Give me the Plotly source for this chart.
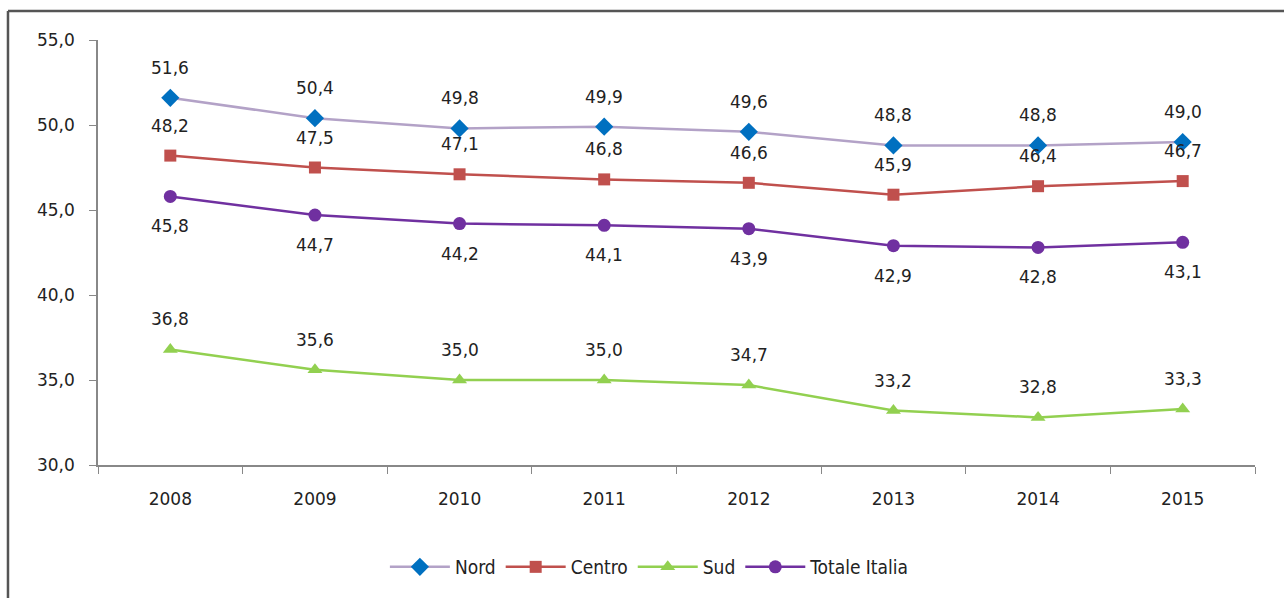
import plotly.graph_objects as go

years = ["2008", "2009", "2010", "2011", "2012", "2013", "2014", "2015"]
nord = [51.6, 50.4, 49.8, 49.9, 49.6, 48.8, 48.8, 49.0]
centro = [48.2, 47.5, 47.1, 46.8, 46.6, 45.9, 46.4, 46.7]
sud = [36.8, 35.6, 35.0, 35.0, 34.7, 33.2, 32.8, 33.3]
totale = [45.8, 44.7, 44.2, 44.1, 43.9, 42.9, 42.8, 43.1]

series = [
    ("Nord", nord, "#B3A2C7", "#0070C0", "diamond", 14, 30),
    ("Centro", centro, "#C0504D", "#C0504D", "square", 12, 30),
    ("Sud", sud, "#92D050", "#92D050", "triangle-up", 13, 30),
    ("Totale Italia", totale, "#7030A0", "#7030A0", "circle", 13, -30),
]

FONT = "DejaVu Sans"

fig = go.Figure()
annotations = []
for name, vals, lc, mc, sym, ms, shift in series:
    fig.add_trace(go.Scatter(
        x=years, y=vals, name=name, mode="lines+markers",
        line=dict(color=lc, width=2.5),
        marker=dict(color=mc, symbol=sym, size=ms),
    ))
    for i, v in enumerate(vals):
        annotations.append(dict(
            x=i, y=v, xref="x", yref="y", text=f"{v:.1f}".replace(".", ","),
            showarrow=False, yshift=shift,
            font=dict(family=FONT, size=17, color="#222"),
        ))

fig.update_layout(
    width=1284, height=598,
    margin=dict(l=98, r=29, t=40, b=133),
    paper_bgcolor="white", plot_bgcolor="white",
    separators=",.",
    showlegend=True,
    legend=dict(orientation="h", x=0.477, xanchor="center", y=-0.24, yanchor="middle",
                font=dict(family="DejaVu Sans Condensed, DejaVu Sans", size=19, color="#222"),
                itemwidth=60),
    annotations=annotations,
    xaxis=dict(type="category", range=[-0.5, 7.5], showline=True, linecolor="#888", linewidth=1.5,
               ticks="outside", ticklen=7, tickcolor="#888", tickson="boundaries",
               showgrid=False, tickangle=0, ticklabelstandoff=18,
               tickfont=dict(family=FONT, size=17, color="#222")),
    yaxis=dict(range=[30, 55], dtick=5, tickformat=".1f", showline=True, linecolor="#888",
               linewidth=1.5, ticks="outside", ticklen=7, tickcolor="#888", showgrid=False,
               zeroline=False, tickfont=dict(family=FONT, size=17, color="#222"),
               ticklabelstandoff=11),
    shapes=[
        dict(type="line", xref="paper", yref="paper", x0=-0.0778, x1=-0.0778, y0=1.068, y1=-0.5,
             line=dict(color="#555", width=2.5)),
        dict(type="line", xref="paper", yref="paper", x0=-0.0778, x1=1.1, y0=1.068, y1=1.068,
             line=dict(color="#555", width=2.5)),
    ],
)

fig.write_html("out.html", config={"displayModeBar": False},
               post_script="document.body.style.margin='0';")
